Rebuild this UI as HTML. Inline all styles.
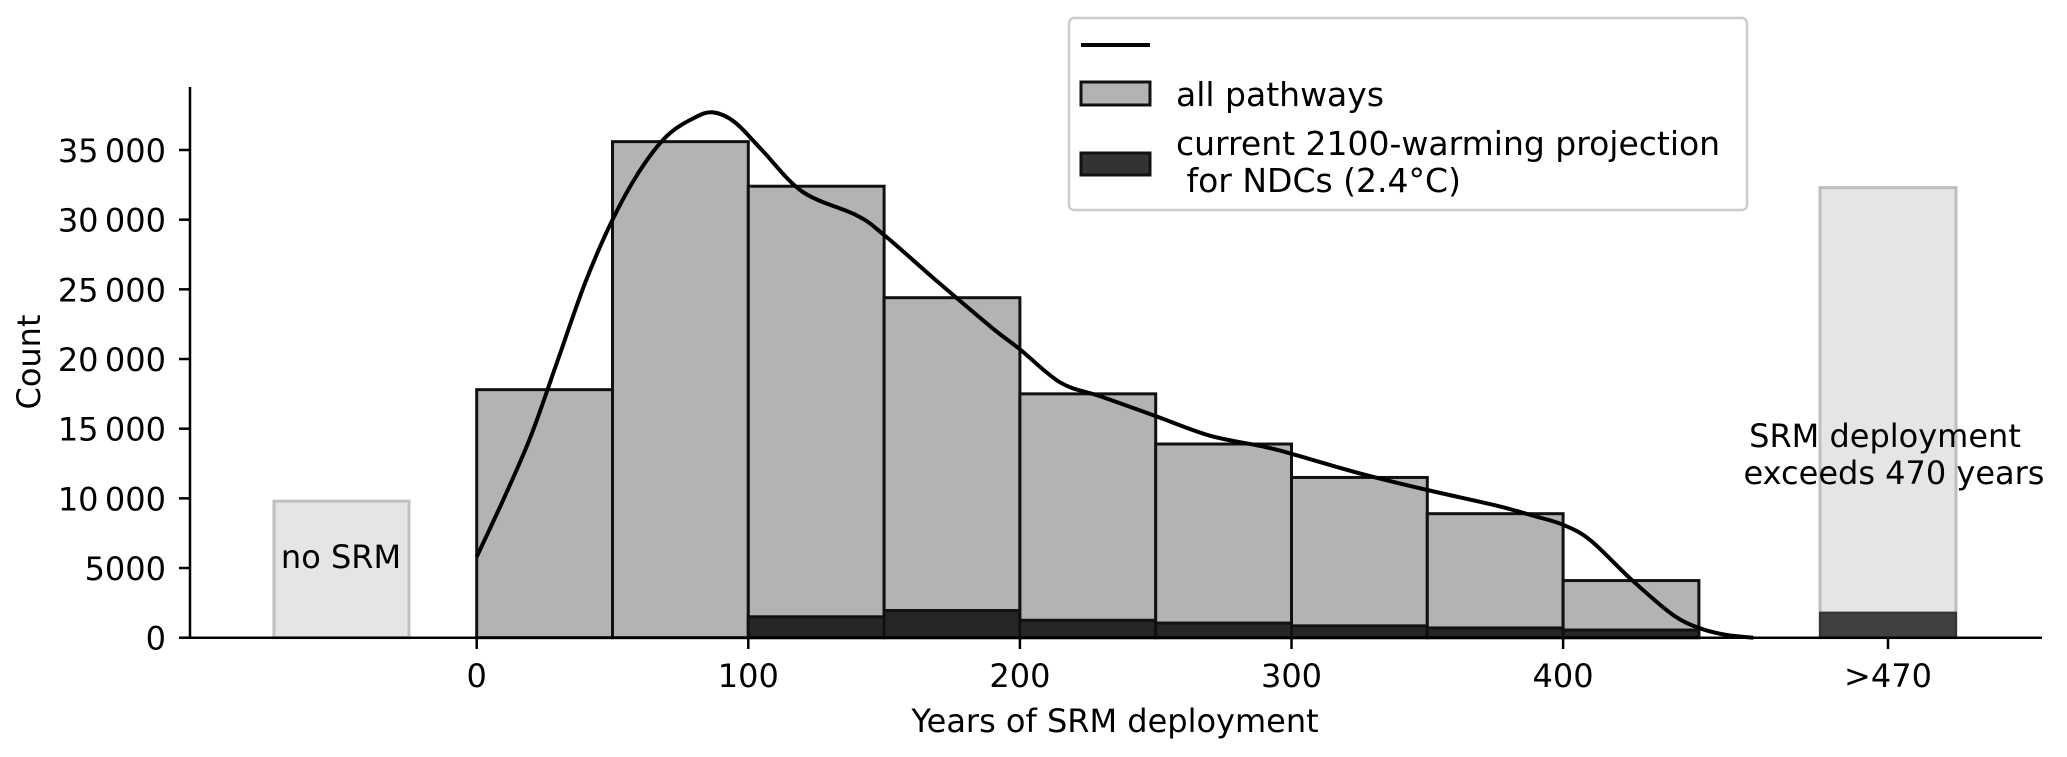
<!DOCTYPE html>
<html><head><meta charset="utf-8"><style>
body{margin:0;background:#fff}
svg{display:block;font-family:"DejaVu Sans","Liberation Sans",sans-serif}
</style></head><body>
<svg id="chart" width="2067" height="757" viewBox="0 0 2067 757">
<g id="marks"></g>
</svg>
<script>
const binStarts=[0,50,100,150,200,250,300,350,400];
const allCounts=[17800,35600,32400,24400,17500,13900,11500,8900,4100];
const ndcCounts=[0,0,1500,1950,1250,1050,850,700,550];
const kdeYears=[0,10,20,30,40,50,60,70,80,87,95,105,120,140,150,170,190,200,215,230,250,270,290,300,325,350,375,390,400,410,425,440,450,460,470];
const kdeCounts=[5800,10000,14500,20000,25500,30000,33500,36000,37300,37700,37000,35000,32000,30300,28900,25500,22200,20700,18300,17300,15900,14500,13700,13200,11800,10600,9500,8700,8100,7000,4200,1700,700,200,0];
const yTicks=[0,5000,10000,15000,20000,25000,30000,35000];
const yTickLabels=["0","5000","10\u2009000","15\u2009000","20\u2009000","25\u2009000","30\u2009000","35\u2009000"];
const xTicks=[0,100,200,300,400];
const noSrmCount=9800;
const exceedAll=32300;
const exceedNdc=1800;

const NS="http://www.w3.org/2000/svg";
const g=document.getElementById('marks');
const X=v=>476.7+v*2.716;
const Y=v=>637.7-v*(487.7/35000);
function mk(tag,attrs,parent){const e=document.createElementNS(NS,tag);for(const k in attrs)e.setAttribute(k,attrs[k]);(parent||g).appendChild(e);return e;}

let e=mk('rect',{x:274,y:Y(noSrmCount),width:135,height:Y(0)-Y(noSrmCount),fill:'#e5e5e5',stroke:'#bfbfbf','stroke-width':3});


e=mk('rect',{x:1820,y:Y(exceedAll),width:136,height:Y(0)-Y(exceedAll),fill:'#e5e5e5',stroke:'#bfbfbf','stroke-width':3});


e=mk('rect',{x:1820,y:Y(exceedNdc),width:136,height:Y(0)-Y(exceedNdc),fill:'#404040',stroke:'#333','stroke-width':2});



binStarts.forEach((b,i)=>{
  const r=mk('rect',{x:X(b),y:Y(allCounts[i]),width:X(b+50)-X(b),height:Y(0)-Y(allCounts[i]),fill:'#b3b3b3',stroke:'#111','stroke-width':3});
  
  
  if(ndcCounts[i]>0){
    const d=mk('rect',{x:X(b),y:Y(ndcCounts[i]),width:X(b+50)-X(b),height:Y(0)-Y(ndcCounts[i]),fill:'#262626',stroke:'#111','stroke-width':3});
    
    
  }
});

// KDE smooth (Catmull-Rom)
const pts=kdeYears.map((yr,i)=>[X(yr),Y(kdeCounts[i])]);
let dStr='M'+pts[0][0].toFixed(1)+' '+pts[0][1].toFixed(1);
for(let i=0;i<pts.length-1;i++){
  const p0=pts[Math.max(0,i-1)],p1=pts[i],p2=pts[i+1],p3=pts[Math.min(pts.length-1,i+2)];
  const c1=[p1[0]+(p2[0]-p0[0])/6,p1[1]+(p2[1]-p0[1])/6];
  const c2=[p2[0]-(p3[0]-p1[0])/6,p2[1]-(p3[1]-p1[1])/6];
  dStr+=' C'+c1.map(v=>v.toFixed(1)).join(' ')+' '+c2.map(v=>v.toFixed(1)).join(' ')+' '+p2.map(v=>v.toFixed(1)).join(' ');
}
e=mk('path',{d:dStr,fill:'none',stroke:'#000','stroke-width':4,'stroke-linejoin':'round'});



e=mk('line',{x1:190,y1:87,x2:190,y2:639,stroke:'#000','stroke-width':2.5});


e=mk('line',{x1:189,y1:637.7,x2:2042,y2:637.7,stroke:'#000','stroke-width':2.5});



yTicks.forEach((t,i)=>{
  mk('line',{x1:179,y1:Y(t),x2:190,y2:Y(t),stroke:'#000','stroke-width':2.5});
  const tx=mk('text',{x:166,y:Y(t)+12,'text-anchor':'end','font-size':32,fill:'#000'});
  tx.textContent=yTickLabels[i];
  
  
});
xTicks.forEach(t=>{
  mk('line',{x1:X(t),y1:637.7,x2:X(t),y2:649,stroke:'#000','stroke-width':2.5});
  const tx=mk('text',{x:X(t),y:687,'text-anchor':'middle','font-size':32,fill:'#000'});
  tx.textContent=String(t);
  
  
});
mk('line',{x1:1888,y1:637.7,x2:1888,y2:649,stroke:'#000','stroke-width':2.5});
</script>
<svg width="2067" height="757" style="position:absolute;left:0;top:0" viewBox="0 0 2067 757" font-family="DejaVu Sans, Liberation Sans, sans-serif">
<text x="1888" y="687" text-anchor="middle" font-size="32">&gt;470</text>
<text x="1115" y="732" text-anchor="middle" font-size="32">Years of SRM deployment</text>
<text transform="translate(40,362) rotate(-90)" text-anchor="middle" font-size="32">Count</text>
<text x="341" y="568" text-anchor="middle" font-size="32">no SRM</text>
<text x="1885" y="447" text-anchor="middle" font-size="32">SRM deployment</text>
<text x="1894" y="484" text-anchor="middle" font-size="32">exceeds 470 years</text>
<g>
<rect x="1069" y="18" width="678" height="192" rx="5" fill="#fff" fill-opacity="0.85" stroke="#cccccc" stroke-width="2.5"/>
<line x1="1081" y1="45" x2="1150" y2="45" stroke="#000" stroke-width="4"/>
<rect x="1081" y="82" width="69" height="23" fill="#b3b3b3" stroke="#111" stroke-width="3"/>
<text x="1176" y="106" font-size="33">all pathways</text>
<rect x="1081" y="153" width="69" height="22" fill="#333" stroke="#111" stroke-width="3"/>
<text x="1176" y="155" font-size="33">current 2100-warming projection</text>
<text x="1176" y="192" font-size="33" xml:space="preserve"> for NDCs (2.4°C)</text>
</g>
</svg>
</body></html>
